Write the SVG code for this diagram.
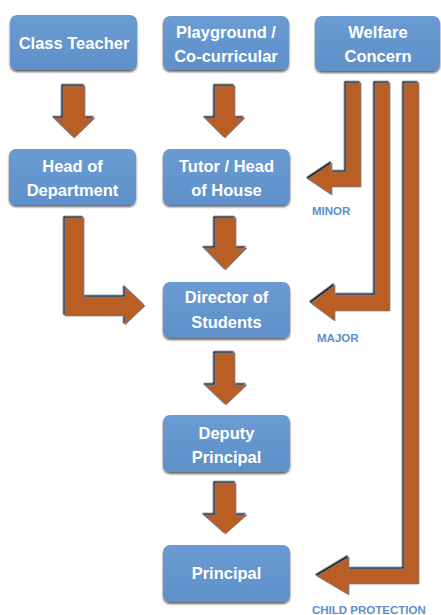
<svg xmlns="http://www.w3.org/2000/svg" width="441" height="615" viewBox="0 0 441 615">
<defs>
<filter id="bs" x="-10%" y="-10%" width="120%" height="130%">
<feDropShadow dx="0" dy="2" stdDeviation="1.2" flood-color="#000" flood-opacity="0.6"/>
</filter>
<filter id="as" x="-20%" y="-20%" width="140%" height="140%">
<feDropShadow dx="-1.5" dy="-1.5" stdDeviation="0.5" flood-color="#111" flood-opacity="0.95"/>
</filter>
<linearGradient id="bg" x1="0" y1="0" x2="0" y2="1">
<stop offset="0" stop-color="#6a9bd2"/>
<stop offset="1" stop-color="#5f90c9"/>
</linearGradient>
</defs>
<style>
.box{fill:url(#bg);}
.t{fill:#fff;font-family:"Liberation Sans",Arial,sans-serif;font-weight:bold;font-size:16.5px;text-anchor:middle;}
.arr{fill:#b95e27;stroke:#6b7fa0;stroke-width:0.7;filter:url(#as);}
.lbl{fill:#5b8fcb;font-family:"Liberation Sans",Arial,sans-serif;font-weight:bold;font-size:11.5px;}
</style>
<g id="connectors">
<path class="arr" d="M63,86 H85 V118 H95 L74.5,138 L54,118 H63 Z"/>
<path class="arr" d="M215,86 H235 V118 H245 L225,138 L205,118 H215 Z"/>
<path class="arr" d="M215,218 H236 V248 H247 L225.5,270 L204,248 H215 Z"/>
<path class="arr" d="M65,218 H84 V297 H125 V287 L145,306 L125,325 V316 H65 Z"/>
<path class="arr" d="M215,353 H235 V385 H247 L226,405 L205,385 H215 Z"/>
<path class="arr" d="M215,483 H236 V515 H247 L225.5,534 L204,515 H215 Z"/>
<path class="arr" d="M346,83 H361 V187 H332 V195 L308,179 L332,163 V172 H346 Z"/>
<path class="arr" d="M375,83 H390 V311 H335 V321 L311,303 L335,285 V295 H375 Z"/>
<path class="arr" d="M404,83 H419 V584 H349 V595 L317,576 L349,557 V569 H404 Z"/>
</g>
<g id="n1"><rect class="box" x="10" y="15" width="127" height="55" rx="7" filter="url(#bs)"/><text class="t" x="74" y="49">Class Teacher</text></g>
<g id="n2"><rect class="box" x="163" y="16" width="126" height="54" rx="7" filter="url(#bs)"/><text class="t" x="226" y="38">Playground /</text><text class="t" x="226" y="62">Co-curricular</text></g>
<g id="n3"><rect class="box" x="315" y="16" width="125" height="55" rx="7" filter="url(#bs)"/><text class="t" x="378" y="38">Welfare</text><text class="t" x="378" y="62">Concern</text></g>
<g id="n4"><rect class="box" x="9" y="149" width="127" height="56" rx="7" filter="url(#bs)"/><text class="t" x="72.5" y="172">Head of</text><text class="t" x="72.5" y="196">Department</text></g>
<g id="n5"><rect class="box" x="163" y="149" width="127" height="56" rx="7" filter="url(#bs)"/><text class="t" x="226.5" y="172">Tutor / Head</text><text class="t" x="226.5" y="196">of House</text></g>
<g id="n6"><rect class="box" x="163" y="282" width="127" height="56" rx="7" filter="url(#bs)"/><text class="t" x="226.5" y="303">Director of</text><text class="t" x="226.5" y="328">Students</text></g>
<g id="n7"><rect class="box" x="163" y="415" width="127" height="57" rx="7" filter="url(#bs)"/><text class="t" x="226.5" y="439">Deputy</text><text class="t" x="226.5" y="463">Principal</text></g>
<g id="n8"><rect class="box" x="163" y="545" width="127" height="57" rx="7" filter="url(#bs)"/><text class="t" x="226.5" y="579">Principal</text></g>
<g id="labels">
<text class="lbl" x="312" y="215">MINOR</text>
<text class="lbl" x="317" y="342">MAJOR</text>
<text class="lbl" x="312" y="614">CHILD PROTECTION</text>
</g>
</svg>
